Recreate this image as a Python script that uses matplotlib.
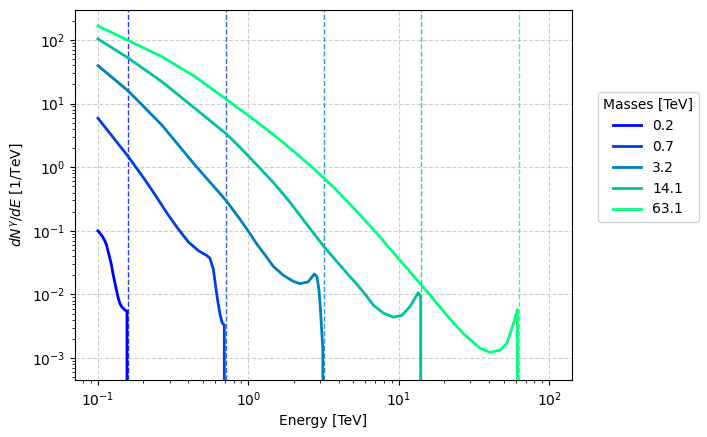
import numpy as np
import matplotlib.pyplot as plt

# masses in TeV and the labels shown in the legend
masses = [0.1585, 0.708, 3.162, 14.13, 63.1]
mass_labels = ['0.2', '0.7', '3.2', '14.1', '63.1']

# spectra (energy in TeV, dN/dE in 1/TeV); 0 above the mass
e_02 = [0.1, 0.103, 0.107, 0.111, 0.114, 0.117, 0.120, 0.123, 0.126, 0.130, 0.136, 0.140, 0.144, 0.151, 0.156,
        0.1585, 100]
n_02 = [0.1, 0.092, 0.082, 0.070, 0.060, 0.047, 0.037, 0.029, 0.021, 0.0148, 0.0090, 0.0072, 0.0064, 0.0057,
        0.0055, 0, 0]

e_07 = [0.1, 0.159, 0.206, 0.239, 0.266, 0.294, 0.342, 0.399, 0.465, 0.502, 0.530, 0.556, 0.585, 0.605, 0.625,
        0.649, 0.67, 0.692, 0.708, 100]
n_07 = [5.9, 1.47, 0.627, 0.373, 0.253, 0.176, 0.107, 0.067, 0.049, 0.044, 0.041, 0.037, 0.025, 0.014, 0.0081,
        0.0048, 0.0036, 0.0033, 0, 0]

e_32 = [0.1, 0.159, 0.266, 0.442, 0.665, 0.718, 0.881, 1.02, 1.14, 1.32, 1.47, 1.71, 2.0, 2.21, 2.5, 2.75, 2.86,
        2.95, 3.02, 3.13, 3.162, 100]
n_32 = [39.5, 15.8, 4.6, 1.08, 0.36, 0.29, 0.152, 0.092, 0.062, 0.039, 0.0275, 0.020, 0.0160, 0.0148, 0.0158,
        0.021, 0.019, 0.0118, 0.0057, 0.00135, 0, 0]

e_141 = [0.1, 0.159, 0.266, 0.442, 0.718, 0.881, 1.0, 1.47, 1.75, 1.89, 2.45, 3.21, 4.75, 5.26, 6.14, 6.79, 7.91,
         9.23, 10.5, 11.9, 13.2, 13.5, 14.0, 14.13, 100]
n_141 = [104, 52, 22.1, 8.4, 3.3, 2.05, 1.5, 0.573, 0.352, 0.282, 0.126, 0.055, 0.019, 0.0146, 0.0093, 0.0068,
         0.0051, 0.0044, 0.0047, 0.0065, 0.0098, 0.0107, 0.0091, 0, 0]

e_631 = [0.1, 0.159, 0.266, 0.442, 0.718, 0.881, 1.0, 1.47, 1.67, 2.45, 3.21, 3.78, 5.26, 7.14, 10.1, 14.4, 16.2,
         20.9, 27.0, 34.8, 40.6, 47.3, 52.4, 58.0, 61.6, 63.1, 100]
n_631 = [166, 98, 54.7, 26.5, 11.6, 8.07, 6.5, 3.25, 2.55, 1.185, 0.663, 0.456, 0.203, 0.0915, 0.0354, 0.0135,
         0.0097, 0.0047, 0.0024, 0.00143, 0.00123, 0.00134, 0.0017, 0.0035, 0.0058, 0, 0]

energies = [e_02, e_07, e_32, e_141, e_631]
spectra = [n_02, n_07, n_32, n_141, n_631]

fig = plt.figure(figsize=(7.07, 4.37), dpi=100)
ax = fig.add_axes([0.106, 0.130, 0.703, 0.847])

colors = plt.cm.winter(np.linspace(0, 1, len(masses)))

for e, n, m, lab, c in zip(energies, spectra, masses, mass_labels, colors):
    ax.plot(e, n, color=c, lw=2, label=lab)
    ax.axvline(m, color=c, ls='--', lw=1, alpha=0.8)

ax.set_xscale('log')
ax.set_yscale('log')
ax.set_xlim(0.0703, 142)
ax.set_ylim(4.5e-4, 295)
ax.grid(True, which='major', ls='--', alpha=0.6)

ax.set_xlabel('Energy [TeV]')
ax.set_ylabel(r'$dN^\gamma/dE$ [1/TeV]')

ax.legend(title='Masses [TeV]', loc='upper left', bbox_to_anchor=(1.052, 0.778), borderaxespad=0)

plt.savefig('out.png', dpi=100)
